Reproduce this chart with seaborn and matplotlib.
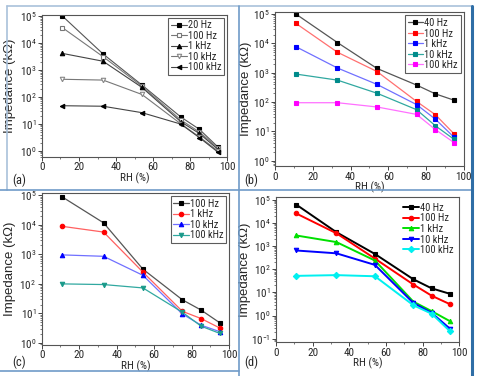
import numpy as np
import matplotlib
matplotlib.use('Agg')
import matplotlib.pyplot as plt
from matplotlib.lines import Line2D
from matplotlib.ticker import LogLocator, MultipleLocator, NullFormatter, FixedLocator
import seaborn as sns
import logging

# relative humidity levels (same in every panel)
rh = [11, 33, 54, 75, 85, 95]

# (a) impedance in kOhm
a_labels = ['20 Hz', '100 Hz', '1 kHz', '10 kHz', '100 kHz']
a_20hz = [100000, 3900, 275, 18, 6.3, 1.4]
a_100hz = [37000, 3100, 250, 14, 5.0, 1.3]
a_1khz = [4100, 2100, 225, 12, 4.4, 1.15]
a_10khz = [450, 420, 123, 10, 3.3, 1.0]
a_100khz = [47, 45, 26, 9.8, 3.1, 0.9]

# (b)
b_labels = ['40 Hz', '100 Hz', '1 kHz', '10 kHz', '100 kHz']
b_40hz = [100000, 10700, 1400, 380, 190, 115]
b_100hz = [48000, 5000, 1100, 105, 37, 8.1]
b_1khz = [7700, 1450, 400, 82, 26, 6.2]
b_10khz = [900, 560, 200, 55, 15.5, 5.3]
b_100khz = [95, 95, 68, 38, 11.5, 4.1]

# (c)
c_labels = ['100 Hz', '1 kHz', '10 kHz', '100 kHz']
c_100hz = [88000, 11700, 315, 29, 13, 4.8]
c_1khz = [8900, 5700, 250, 11.8, 6.7, 3.2]
c_10khz = [960, 860, 195, 9.6, 4.0, 2.4]
c_100khz = [100, 95, 73, 11, 3.7, 2.1]

# (d)
d_labels = ['40 Hz', '100 Hz', '1 kHz', '10 kHz', '100 kHz']
d_40hz = [63000, 4000, 460, 37, 15, 8.7]
d_100hz = [26000, 3600, 290, 22, 7.2, 3.1]
d_1khz = [2900, 1500, 240, 4.0, 1.55, 0.57]
d_10khz = [650, 490, 155, 3.5, 1.3, 0.27]
d_100khz = [52, 56, 50, 2.8, 1.2, 0.21]

sns.set_style('ticks')
# the source picture is squeezed sideways, so a narrow face fits it best
narrow = ['Liberation Sans Narrow', 'Arial Narrow', 'Roboto Condensed', 'Archivo Narrow',
          'PT Sans Narrow', 'Liberation Sans', 'DejaVu Sans']
plt.rcParams['font.family'] = narrow
logging.getLogger('matplotlib.font_manager').setLevel(logging.ERROR)

W, H = 482, 376
fig = plt.figure(figsize=(W / 100, H / 100), dpi=100)
fig.patch.set_facecolor('white')

ax_a = fig.add_axes([0.0871, 0.583, 0.384, 0.378])
ax_b = fig.add_axes([0.571, 0.5585, 0.391, 0.4088])
ax_c = fig.add_axes([0.0865, 0.0832, 0.389, 0.4035])
ax_d = fig.add_axes([0.5726, 0.0904, 0.380, 0.385])


def draw(ax, series, labels, colors, markers, faces, lcolors, lw, ms):
    for vals, lab, col, mk, fc, lc in zip(series, labels, colors, markers, faces, lcolors):
        sns.lineplot(x=rh, y=vals, ax=ax, label=lab, color=lc, linewidth=lw,
                     marker=mk, markersize=ms, markerfacecolor=fc,
                     markeredgecolor=col, markeredgewidth=0.8)


def style(ax, ylim, decades, label_px):
    ax.set_yscale('log')
    ax.set_xlim(0, 100)
    ax.set_ylim(*ylim)
    ax.xaxis.set_major_locator(MultipleLocator(20))
    ax.xaxis.set_minor_locator(MultipleLocator(10))
    ax.yaxis.set_major_locator(FixedLocator([10.0 ** k for k in decades]))
    ax.yaxis.set_minor_locator(LogLocator(base=10, subs=np.arange(2, 10), numticks=12))
    ax.yaxis.set_minor_formatter(NullFormatter())
    ax.tick_params(axis='both', which='major', direction='out', length=3, width=0.7,
                   labelsize=8, pad=1, color='#444444')
    ax.tick_params(axis='both', which='minor', direction='out', length=1.5, width=0.5,
                   color='#444444')
    for sp in ax.spines.values():
        sp.set_color('#555555')
        sp.set_linewidth(0.8)
        sp.set_visible(True)
    ax.set_xlabel('RH (%)', fontsize=8, labelpad=0)
    ax.set_ylabel('Impedance (k\u03a9)', fontsize=9.5,
                  family=['Liberation Sans', 'DejaVu Sans'])
    # put the y label where the source has it (x in figure pixels)
    pos = ax.get_position()
    ax.yaxis.set_label_coords((label_px / W - pos.x0) / pos.width, 0.5)


# (a) grey curves, black/open markers
draw(ax_a, [a_20hz, a_100hz, a_1khz, a_10khz, a_100khz], a_labels,
     ['black', '#777777', 'black', '#888888', 'black'],
     ['s', 's', '^', 'v', '<'],
     ['black', 'white', 'black', 'white', 'black'],
     ['#555555', '#777777', '#444444', '#777777', '#444444'], 0.8, 3.2)
style(ax_a, (0.6, 1.12e5), range(0, 6), 16)

# (b)
b_cols = ['black', 'red', 'blue', '#008b8b', '#ff00ff']
draw(ax_b, [b_40hz, b_100hz, b_1khz, b_10khz, b_100khz], b_labels,
     b_cols, ['s'] * 5, b_cols,
     ['#555555', '#ff7070', '#7070ff', '#30a8a0', '#ff70ff'], 0.9, 3.2)
style(ax_b, (0.66, 1.15e5), range(0, 6), 252)

# (c)
c_cols = ['black', 'red', 'blue', '#1a9a8a']
draw(ax_c, [c_100hz, c_1khz, c_10khz, c_100khz], c_labels,
     c_cols, ['s', 'o', '^', 'v'], c_cols,
     ['#555555', '#ff6060', '#7070ff', '#30a8a0'], 0.9, 3.2)
style(ax_c, (0.87, 1.2e5), range(0, 6), 16)

# (d)
d_cols = ['black', 'red', '#00e000', 'blue', '#00f0f0']
draw(ax_d, [d_40hz, d_100hz, d_1khz, d_10khz, d_100khz], d_labels,
     d_cols, ['s', 'o', '^', 'v', 'D'], d_cols, d_cols, 1.4, 3.2)
style(ax_d, (0.072, 1.3e5), range(-1, 6), 251)

for ax, framed in [(ax_a, True), (ax_b, True), (ax_c, True), (ax_d, False)]:
    leg = ax.legend(loc='upper right', fontsize=7.5, frameon=framed, fancybox=False,
                    handlelength=1.5, handletextpad=0.1, labelspacing=0.05,
                    borderpad=0.25, borderaxespad=0.3)
    if framed:
        leg.get_frame().set_edgecolor('#333333')
        leg.get_frame().set_linewidth(0.8)

# panel letters
fig.text(12 / W, 1 - 180 / H, '(a)', fontsize=9, va='center')
fig.text(244 / W, 1 - 180 / H, '(b)', fontsize=9, va='center')
fig.text(12 / W, 1 - 362 / H, '(c)', fontsize=9, va='center')
fig.text(244 / W, 1 - 362 / H, '(d)', fontsize=9, va='center')

# surrounding frame lines of the composite figure
frame_col = '#6f9bc8'
x0, xm, x1 = 7 / W, 239 / W, 472 / W
y0, ym, y1 = 1 - 6 / H, 1 - 190 / H, 1 - 371 / H
for xs, ys, c, w in [
    ([x0, x1], [y0, y0], '#a9c1da', 1.2),
    ([x0, x0], [y0, ym], '#a9c1da', 1.2),
    ([0, x1], [ym, ym], frame_col, 1.2),
    ([xm, xm], [y0, 0], frame_col, 1.2),
    ([0, xm], [y1, y1], frame_col, 1.2),
    ([x1, x1], [y0, 0], '#2f6ea6', 2.2),
]:
    fig.add_artist(Line2D(xs, ys, transform=fig.transFigure, color=c, linewidth=w))

fig.savefig('out.png', dpi=100)
